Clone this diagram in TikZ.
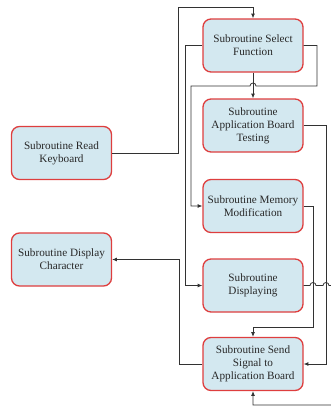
\documentclass[tikz,border=0pt]{standalone}
\usepackage{fontspec}
\setmainfont{Liberation Serif}
\usetikzlibrary{arrows.meta}
\definecolor{boxfill}{RGB}{211,232,240}
\definecolor{boxline}{RGB}{222,62,62}
\definecolor{wire}{RGB}{50,50,50}
\definecolor{txt}{RGB}{40,40,40}
\tikzset{
  subbox/.style={draw=boxline,fill=boxfill,line width=1pt,rounded corners=6pt,
    minimum width=75pt,minimum height=39.75pt,align=center,text=txt,
    font=\fontsize{8.4}{9.8}\selectfont,inner sep=1pt},
  conn/.style={draw=wire,line width=0.6pt,-{Latex[length=3.5pt,width=3pt]}}
}
\begin{document}
\begin{tikzpicture}[x=0.75pt,y=0.75pt,yscale=-1]
\useasboundingbox (0,0) rectangle (330,407);

% Text Node
\node[subbox] (sel) at (253,45.5) {Subroutine Select\\Function};
% Text Node
\node[subbox] (app) at (253,125.5) {Subroutine\\Application Board\\Testing};
% Text Node
\node[subbox] (mem) at (253,206) {Subroutine Memory\\Modification};
% Text Node
\node[subbox] (disp) at (253,285.5) {Subroutine\\Displaying};
% Text Node
\node[subbox] (send) at (253,364) {Subroutine Send\\Signal to\\Application Board};
% Text Node
\node[subbox] (kbd) at (61.5,153) {Subroutine Read\\Keyboard};
% Text Node
\node[subbox] (chr) at (61.5,259.5) {Subroutine Display\\Character};

%Straight Lines
\draw[conn] (kbd.east) -| (178,7) -| (sel.north);
\draw[conn] (sel.south) -- (app.north);
\draw[conn] (sel.west) -- ++(-17,0) |- (disp.west);
\draw[conn] (sel.east) -| (317,86) -- (256,86) arc (0:-180:2.25pt) -- (191,86) |- (mem.west);
\draw[conn] (app.east) -- ++(23,0) |- (send.east);
\draw[conn] (mem.east) -| (313,327) -| (send.north);
\draw[conn] (send.west) -- ++(-23,0) |- (chr.east);
%Curve Lines
\draw[conn] (disp.east) -- (310,285.5) arc (180:360:2.25pt) -- (323,285.5) arc (180:360:2.25pt)
  -- (335,285.5) -- (335,405) -| (send.south);

\end{tikzpicture}
\end{document}
